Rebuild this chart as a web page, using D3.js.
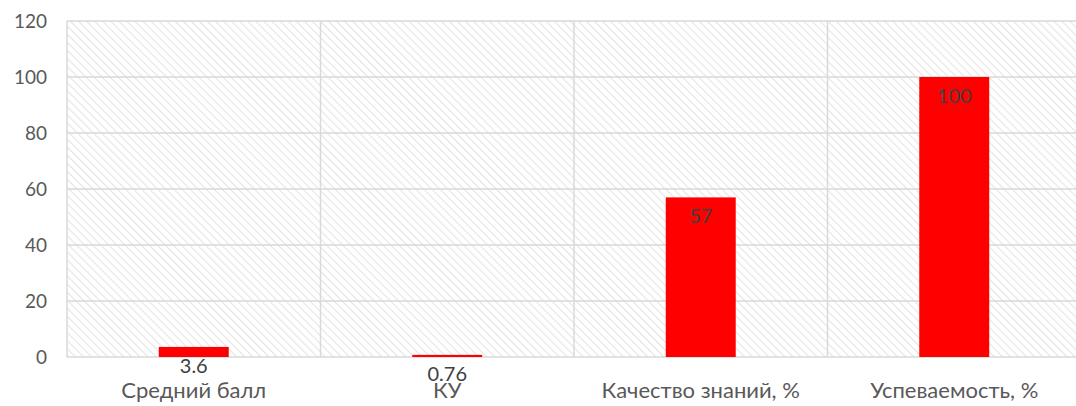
<!DOCTYPE html>
<html>
<head>
<meta charset="utf-8">
<script src="https://cdn.jsdelivr.net/npm/d3@7"></script>
<style>
  html, body { margin: 0; padding: 0; background: #fff; }
  svg { display: block; font-family: Lato, "Open Sans", sans-serif; }
</style>
</head>
<body>
<svg id="chart" width="1076" height="406"></svg>
<script>
const categories = ['Средний балл', 'КУ', 'Качество знаний, %', 'Успеваемость, %'];
const values = [3.6, 0.76, 57, 100];
const valueLabels = ['3.6', '0.76', '57', '100'];
const yTicks = [0, 20, 40, 60, 80, 100, 120];

const margin = { left: 67, right: -5, top: 21, bottom: 49 };
const width = 1076, height = 406;

const svg = d3.select('#chart');

// diagonal hatch for the plot area background
const defs = svg.append('defs');
defs.append('pattern')
    .attr('id', 'hatch')
    .attr('patternUnits', 'userSpaceOnUse')
    .attr('width', 5.7)
    .attr('height', 5.7)
    .attr('patternTransform', 'rotate(-45)')
    .append('line')
    .attr('x1', 0).attr('y1', 0)
    .attr('x2', 0).attr('y2', 5.7)
    .style('stroke', '#e4e4e4')
    .style('stroke-width', 2.2);

const x = d3.scaleBand()
    .domain(categories)
    .range([margin.left, width - margin.right])
    .paddingInner(0.724)
    .paddingOuter(0.362);

const cells = d3.scaleBand()
    .domain(categories)
    .range([margin.left, width - margin.right]);

const y = d3.scaleLinear()
    .domain([0, 120])
    .range([height - margin.bottom, margin.top]);

svg.append('rect')
    .attr('x', margin.left)
    .attr('y', y(120))
    .attr('width', width - margin.right - margin.left)
    .attr('height', y(0) - y(120))
    .style('fill', 'url(#hatch)');

// horizontal gridlines
svg.append('g')
    .selectAll('line')
    .data(yTicks)
    .enter()
    .append('line')
    .attr('x1', margin.left)
    .attr('x2', width - margin.right)
    .attr('y1', d => y(d))
    .attr('y2', d => y(d))
    .style('stroke', '#d9d9d9')
    .style('stroke-width', 1.5);

// vertical gridlines at category boundaries
svg.append('g')
    .selectAll('line')
    .data(categories)
    .enter()
    .append('line')
    .attr('x1', d => cells(d))
    .attr('x2', d => cells(d))
    .attr('y1', y(120))
    .attr('y2', y(0))
    .style('stroke', '#d9d9d9')
    .style('stroke-width', 1.5);

// y tick labels
svg.append('g')
    .selectAll('text')
    .data(yTicks)
    .enter()
    .append('text')
    .attr('x', 47)
    .attr('y', d => y(d))
    .attr('dy', '0.35em')
    .attr('text-anchor', 'end')
    .style('font-size', '19px')
    .style('fill', '#595959')
    .text(d => d);

// bars
svg.append('g')
    .selectAll('rect')
    .data(values)
    .enter()
    .append('rect')
    .attr('x', (d, i) => x(categories[i]))
    .attr('width', x.bandwidth())
    .attr('y', d => y(d))
    .attr('height', d => y(0) - y(d))
    .style('fill', '#ff0000');

// value labels, just inside the bar end
svg.append('g')
    .selectAll('text')
    .data(values)
    .enter()
    .append('text')
    .attr('x', (d, i) => x(categories[i]) + x.bandwidth() / 2)
    .attr('y', d => y(d) + 19)
    .attr('dy', '0.35em')
    .attr('text-anchor', 'middle')
    .style('font-size', '20px')
    .style('fill', '#404040')
    .text((d, i) => valueLabels[i]);

// category labels
svg.append('g')
    .selectAll('text')
    .data(categories)
    .enter()
    .append('text')
    .attr('x', d => cells(d) + cells.bandwidth() / 2)
    .attr('y', 398)
    .attr('text-anchor', 'middle')
    .style('font-size', '22px')
    .style('fill', '#595959')
    .text(d => d);
</script>
</body>
</html>
